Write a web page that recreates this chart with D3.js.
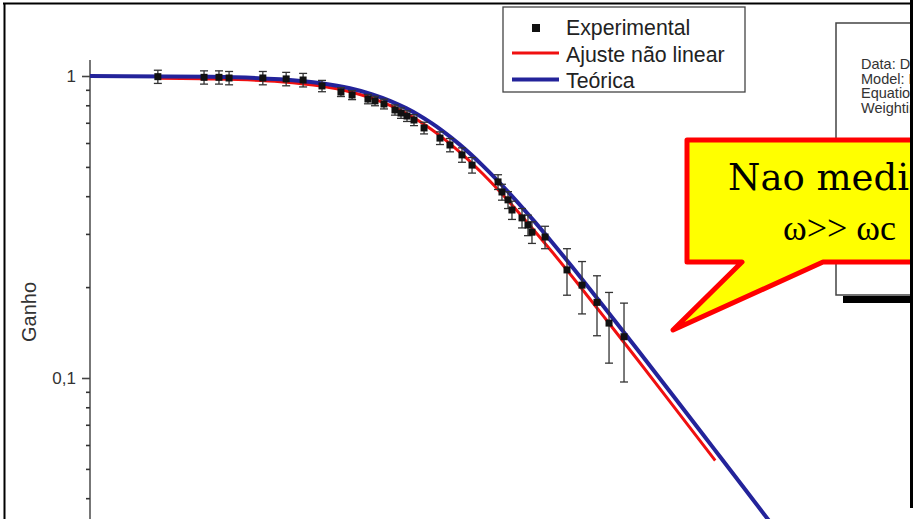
<!DOCTYPE html>
<html><head><meta charset="utf-8">
<script src="https://cdn.jsdelivr.net/npm/d3@7/dist/d3.min.js"></script>
<style>body{margin:0;background:#fff;overflow:hidden}svg{display:block}</style>
</head><body>
<svg id="chart" width="913" height="519"></svg>
<script>
// ---- data ----
const expFreq = [59, 93.5, 108.5, 120, 168, 212, 251, 303, 366, 409, 479, 514, 562, 627, 666, 707, 758, 838, 982, 1085, 1223, 1352, 1752, 1822, 1935, 2013, 2225, 2361, 2457, 2799, 3484, 4047, 4698, 5297, 6150];
const expGain = [0.995, 0.99, 0.99, 0.985, 0.985, 0.978, 0.97, 0.927, 0.885, 0.865, 0.839, 0.827, 0.808, 0.772, 0.754, 0.737, 0.715, 0.673, 0.623, 0.591, 0.548, 0.507, 0.446, 0.413, 0.389, 0.360, 0.339, 0.321, 0.304, 0.293, 0.228, 0.203, 0.178, 0.152, 0.137];
const expErr  = [0.05, 0.05, 0.05, 0.05, 0.05, 0.05, 0.05, 0.04, 0.03, 0.03, 0.03, 0.03, 0.03, 0.03, 0.03, 0.03, 0.03, 0.03, 0.03, 0.03, 0.03, 0.03, 0.025, 0.025, 0.025, 0.025, 0.025, 0.025, 0.025, 0.025, 0.04, 0.04, 0.04, 0.04, 0.04];

const fitFreq = [59, 100, 200, 300, 400, 500, 600, 700, 800, 900, 1000, 1200, 1500, 2000, 2500, 3000, 4000, 5000, 7000, 10000, 15270];
const fitGain = [0.9825, 0.9779, 0.9574, 0.9260, 0.8867, 0.8429, 0.7973, 0.7518, 0.7080, 0.6665, 0.6277, 0.5590, 0.4756, 0.3764, 0.3093, 0.2618, 0.1994, 0.1605, 0.1156, 0.0812, 0.0533];

const theoFreq = [30, 100, 200, 300, 400, 500, 600, 700, 800, 900, 1000, 1200, 1500, 2000, 2500, 3000, 4000, 5000, 7000, 10000, 15000, 20000, 30000];
const theoGain = [0.9994, 0.9936, 0.9751, 0.9465, 0.9104, 0.8695, 0.8262, 0.7826, 0.7400, 0.6991, 0.6606, 0.5914, 0.5060, 0.4027, 0.3320, 0.2815, 0.2149, 0.1733, 0.1247, 0.0877, 0.0586, 0.0440, 0.0293];

const yMajorTicks = [1, 0.1];
const yMajorLabels = ["1", "0,1"];
const yMinorTicks = [0.9, 0.8, 0.7, 0.6, 0.5, 0.4, 0.3, 0.2, 0.09, 0.08, 0.07, 0.06, 0.05, 0.04, 0.03];
const yTitle = "Ganho";
const legendLabels = ["Experimental", "Ajuste não linear", "Teórica"];
const infoLines = ["Data: Data1_B", "Model: Filtro", "Equation: y = A/sqrt(1+(x/wc)^2)", "Weighting:"];
const calloutLines = ["Nao medimos para", "ω>> ωc"];

// ---- layout ----
const svg = d3.select("#chart");
const x = d3.scaleLog().domain([30, 100000]).range([90, 90 + 231 * Math.log10(100000 / 30)]);
const y = d3.scaleLog().domain([0.1, 1]).range([378, 76]);

// y axis
const axisG = svg.append("g").attr("transform", "translate(90,0)");
axisG.append("line").attr("x1", 0).attr("x2", 0).attr("y1", y(1.13)).attr("y2", 530)
  .attr("stroke", "#555").attr("stroke-width", 1.6);
const minorAxis = axisG.append("g").call(d3.axisLeft(y).tickValues(yMinorTicks).tickSize(4).tickFormat(""));
minorAxis.select(".domain").remove();
minorAxis.selectAll("line").attr("stroke", "#333").attr("stroke-width", 1.6);
const majorAxis = axisG.append("g").call(d3.axisLeft(y).tickValues(yMajorTicks).tickSize(8).tickPadding(6)
  .tickFormat((d, i) => yMajorLabels[i]));
majorAxis.select(".domain").remove();
majorAxis.selectAll("line").attr("stroke", "#444").attr("stroke-width", 1.6);
majorAxis.selectAll("text").attr("font-family", "Liberation Sans, Arial, sans-serif").attr("font-size", 17).attr("fill", "#333");

svg.append("text").attr("transform", "translate(36,312) rotate(-90)")
  .attr("text-anchor", "middle").attr("font-family", "Liberation Sans, Arial, sans-serif")
  .attr("font-size", 20).attr("fill", "#333").text(yTitle);

// curves
const line = d3.line().x(d => x(d[0])).y(d => y(d[1])).curve(d3.curveMonotoneX);
svg.append("path").datum(fitFreq.map((f, i) => [f, fitGain[i]]))
  .attr("d", line).attr("fill", "none").attr("stroke", "#f01010").attr("stroke-width", 3);
svg.append("path").datum(theoFreq.map((f, i) => [f, theoGain[i]]))
  .attr("d", line).attr("fill", "none").attr("stroke", "#23239a").attr("stroke-width", 4);

// experimental points with error bars
const pts = expFreq.map((f, i) => ({ f, g: expGain[i], e: expErr[i] }));
const eb = svg.append("g").attr("stroke", "#333").attr("stroke-width", 1.3);
pts.forEach(p => {
  const cx = x(p.f), yt = y(p.g + p.e), yb = y(p.g - p.e);
  eb.append("line").attr("x1", cx).attr("x2", cx).attr("y1", yt).attr("y2", yb);
  eb.append("line").attr("x1", cx - 4).attr("x2", cx + 4).attr("y1", yt).attr("y2", yt);
  eb.append("line").attr("x1", cx - 4).attr("x2", cx + 4).attr("y1", yb).attr("y2", yb);
});
svg.append("g").selectAll("rect").data(pts).join("rect")
  .attr("x", d => x(d.f) - 3.5).attr("y", d => y(d.g) - 3.5)
  .attr("width", 7).attr("height", 7).attr("fill", "#111");

// legend
const lg = svg.append("g");
lg.append("rect").attr("x", 503).attr("y", 7).attr("width", 242).attr("height", 85)
  .attr("fill", "#fff").attr("stroke", "#444").attr("stroke-width", 1.3);
lg.append("rect").attr("x", 532).attr("y", 24).attr("width", 8).attr("height", 8).attr("fill", "#111");
lg.append("line").attr("x1", 512).attr("x2", 559).attr("y1", 53).attr("y2", 53).attr("stroke", "#f01010").attr("stroke-width", 3);
lg.append("line").attr("x1", 512).attr("x2", 559).attr("y1", 79.5).attr("y2", 79.5).attr("stroke", "#23239a").attr("stroke-width", 4);
lg.selectAll("text").data(legendLabels).join("text")
  .attr("x", 566).attr("y", (d, i) => [35, 61.5, 87.5][i])
  .attr("font-family", "Liberation Sans, Arial, sans-serif").attr("font-size", 21.3).attr("fill", "#222")
  .text(d => d);

// info box (Origin fit stats), cut by the picture's right edge
const ib = svg.append("g");
ib.append("rect").attr("x", 843).attr("y", 296).attr("width", 120).attr("height", 7).attr("fill", "#000");
ib.append("rect").attr("x", 836).attr("y", 23).attr("width", 160).attr("height", 272)
  .attr("fill", "#fff").attr("stroke", "#444").attr("stroke-width", 1.5);
ib.selectAll("text").data(infoLines).join("text")
  .attr("x", 861).attr("y", (d, i) => 69 + i * 14.5)
  .attr("font-family", "Liberation Sans, Arial, sans-serif").attr("font-size", 14.5).attr("fill", "#333")
  .text(d => d);

// callout
svg.append("path")
  .attr("d", "M687,140 H960 V262 H823 L673,330 L742,262 H687 Z")
  .attr("fill", "#ffff00").attr("stroke", "#ff0000").attr("stroke-width", 5).attr("stroke-linejoin", "round");
svg.append("text").attr("x", 728).attr("y", 190)
  .attr("font-family", "DejaVu Serif, serif").attr("font-size", 37).attr("fill", "#000").text(calloutLines[0]);
svg.append("text").attr("x", 783).attr("y", 240)
  .attr("font-family", "Liberation Serif, serif").attr("font-size", 36).attr("fill", "#000").text(calloutLines[1]);

// outer frame
svg.append("line").attr("x1", 3).attr("x2", 913).attr("y1", 3.5).attr("y2", 3.5).attr("stroke", "#000").attr("stroke-width", 2);
svg.append("line").attr("x1", 4.5).attr("x2", 4.5).attr("y1", 3).attr("y2", 519).attr("stroke", "#000").attr("stroke-width", 2);
svg.append("rect").attr("x", 910).attr("y", 0).attr("width", 3).attr("height", 508).attr("fill", "#000");
</script>
</body></html>
